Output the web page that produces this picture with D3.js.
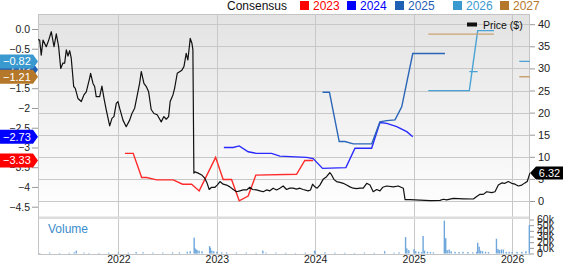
<!DOCTYPE html>
<meta charset="utf-8">
<html>
<style>
body { margin: 0; background: #fff; }
svg { display: block; font-family: "Liberation Sans", Arial, sans-serif; }
.tick text { fill: #222; }
</style>
<body>
<script src="https://cdn.jsdelivr.net/npm/d3@7"></script>
<script>

var width = 565, height = 264;

// price ($) : [decimal year, price]
var price = [
  [2021.182,36.5],[2021.199,36.4],[2021.215,33.0],[2021.233,36.4],[2021.266,34.9],[2021.291,36.4],
  [2021.317,38.3],[2021.345,34.9],[2021.368,37.8],[2021.392,34.9],[2021.413,30.0],[2021.436,31.2],
  [2021.453,31.2],[2021.470,34.2],[2021.487,32.8],[2021.504,34.0],[2021.520,32.3],[2021.545,25.9],
  [2021.561,25.5],[2021.588,23.2],[2021.622,22.5],[2021.649,24.0],[2021.673,24.7],[2021.707,27.8],
  [2021.717,28.9],[2021.741,26.6],[2021.758,25.9],[2021.774,23.6],[2021.809,23.6],[2021.832,26.0],
  [2021.853,23.2],[2021.876,20.6],[2021.911,17.0],[2021.934,18.7],[2021.954,19.1],[2021.978,22.1],
  [2021.995,22.5],[2022.012,21.0],[2022.046,18.3],[2022.079,16.8],[2022.114,18.3],[2022.137,19.8],
  [2022.165,21.0],[2022.198,24.7],[2022.215,26.6],[2022.232,29.3],[2022.259,26.6],[2022.283,25.9],
  [2022.307,24.7],[2022.333,20.7],[2022.361,19.8],[2022.394,19.5],[2022.435,17.9],[2022.462,19.1],
  [2022.486,18.5],[2022.510,19.1],[2022.526,22.5],[2022.554,24.0],[2022.571,25.5],[2022.598,28.9],
  [2022.645,29.6],[2022.666,30.4],[2022.689,33.4],[2022.706,31.9],[2022.730,36.8],[2022.747,35.7],
  [2022.757,34.2],[2022.767,6.3],[2022.777,6.6],[2022.811,6.3],[2022.846,5.9],[2022.879,5.1],
  [2022.902,4.0],[2022.923,2.6],[2022.947,3.1],[2022.981,3.1],[2023.004,3.6],[2023.032,4.4],
  [2023.065,3.8],[2023.100,3.6],[2023.133,3.2],[2023.167,2.6],[2023.201,2.1],[2023.235,2.3],
  [2023.268,2.5],[2023.303,2.5],[2023.336,3.1],[2023.364,2.6],[2023.404,2.5],[2023.438,2.3],
  [2023.472,2.1],[2023.506,2.5],[2023.540,2.3],[2023.573,2.9],[2023.608,2.5],[2023.641,2.9],
  [2023.675,3.4],[2023.709,2.6],[2023.743,2.9],[2023.776,2.9],[2023.811,2.7],[2023.845,2.9],
  [2023.878,2.6],[2023.929,2.3],[2023.953,2.5],[2023.974,3.8],[2023.997,3.2],[2024.020,2.9],
  [2024.048,3.6],[2024.081,4.9],[2024.116,5.5],[2024.149,6.4],[2024.167,5.9],[2024.190,4.9],
  [2024.217,4.4],[2024.251,4.2],[2024.285,4.0],[2024.319,3.6],[2024.353,3.2],[2024.386,2.9],
  [2024.421,2.8],[2024.454,2.9],[2024.488,2.9],[2024.523,4.0],[2024.556,3.6],[2024.589,2.1],
  [2024.624,2.6],[2024.657,2.3],[2024.685,3.1],[2024.726,3.4],[2024.793,3.2],[2024.843,3.4],
  [2024.894,2.9],[2024.912,0.3],[2024.962,0.3],[2025.064,0.2],[2025.166,0.1],[2025.267,0.15],
  [2025.301,0.4],[2025.335,0.25],[2025.402,0.6],[2025.504,0.5],[2025.606,0.45],[2025.640,1.0],
  [2025.674,1.5],[2025.707,1.5],[2025.742,2.1],[2025.793,1.9],[2025.826,2.1],[2025.860,3.6],
  [2025.894,4.1],[2025.928,4.0],[2025.961,4.4],[2025.996,4.0],[2026.030,3.8],[2026.063,3.4],
  [2026.098,3.6],[2026.131,4.1],[2026.154,4.4],[2026.175,5.9],[2026.182,6.32]
];

// consensus EPS by fiscal year : [decimal year, eps], null = gap
var eps2023 = [[2022.066,-3.15],[2022.150,-3.15],[2022.236,-3.76],[2022.287,-3.76],[2022.388,-3.82],
  [2022.557,-3.82],[2022.652,-3.93],[2022.744,-3.93],[2022.821,-4.10],[2022.988,-3.25],[2023.065,-3.81],
  [2023.150,-3.81],[2023.228,-4.35],[2023.319,-4.23],[2023.397,-3.70],[2023.811,-3.68],[2023.895,-3.33],
  [2023.980,-3.33]];
var eps2024 = [[2023.072,-3.00],[2023.167,-3.00],[2023.228,-2.96],[2023.319,-3.11],[2023.404,-3.15],
  [2023.557,-3.15],[2023.641,-3.22],[2023.913,-3.25],[2023.980,-3.28],[2024.075,-3.53],[2024.312,-3.51],
  [2024.404,-3.02],[2024.573,-3.02],[2024.657,-2.37],[2024.726,-2.39],[2024.827,-2.47],[2024.929,-2.60],
  [2024.990,-2.73]];
var eps2025 = [[2024.075,-1.60],[2024.145,-1.60],[2024.244,-2.85],[2024.302,-2.85],[2024.386,-2.91],
  [2024.573,-2.91],[2024.657,-2.35],[2024.726,-2.32],[2024.810,-2.30],[2024.878,-1.97],[2024.990,-0.62],
  [2025.318,-0.62]];
var eps2026 = [[2025.148,-1.56],[2025.565,-1.56],[2025.592,-1.08],[2025.565,-1.08],[2025.650,-1.08],
  [2025.592,-1.08],[2025.650,-0.04],[2025.816,-0.04],null,[2026.073,-0.82],[2026.182,-0.82]];
var eps2027 = [[2025.148,-0.13],[2025.816,-0.13],null,[2026.073,-1.21],[2026.182,-1.21]];

var seriesNames = ["2023","2024","2025","2026","2027"];
var seriesColors = ["#ff0000","#0000ff","#1f5fb4","#3a9ad0","#b5782a"];
var lineColors = ["#ff2a2a","#2a2aff","#2a66b8","#4aa3d4","#c9a273"];
var latestEps = [-3.33,-2.73,-1.03,-0.82,-1.21];
var lastPrice = 6.32;

// volume (thousands) : [decimal year, volume]
var volume = [
  [2021.20,1],[2021.30,1.5],[2021.40,1],[2021.50,1.2],[2021.55,2],[2021.571,5],[2021.65,1.5],[2021.70,1],
  [2021.80,1],[2021.90,1.5],[2022.00,2],[2022.10,1.5],[2022.18,2.5],[2022.25,2],[2022.35,1.5],[2022.45,1.5],
  [2022.55,2],[2022.62,2],[2022.70,3],[2022.73,4],[2022.770,28],[2022.78,9],[2022.79,7],[2022.80,6],
  [2022.82,5],[2022.85,4],[2022.927,13],[2022.935,10],[2022.95,5],[2022.97,4],[2023.00,3],[2023.05,2],
  [2023.10,2],[2023.20,1.5],[2023.30,1.5],[2023.40,1.2],[2023.468,5],[2023.50,1.5],[2023.60,1.5],
  [2023.70,1.2],[2023.80,1],[2023.90,1.5],[2023.994,5],[2024.00,3],[2024.10,2],[2024.20,1.5],[2024.30,1.2],
  [2024.40,1],[2024.50,1.5],[2024.60,1.2],[2024.705,4],[2024.80,1.5],[2024.85,2],[2024.917,29],[2024.93,9],
  [2024.95,6],[2025.003,8],[2025.02,4],[2025.05,3],[2025.08,2.5],[2025.095,31],[2025.11,5],[2025.14,3],
  [2025.17,2.5],[2025.20,2],[2025.311,58],[2025.325,27],[2025.34,6],[2025.36,7],[2025.38,4],[2025.42,3],
  [2025.46,2.5],[2025.50,3],[2025.55,2.5],[2025.60,2],[2025.64,3],[2025.650,19],[2025.665,12],[2025.68,5],
  [2025.70,4],[2025.73,3],[2025.76,2.5],[2025.841,26],[2025.856,8],[2025.87,6],[2025.89,7],[2025.91,7],
  [2025.94,3],[2025.97,3],[2026.00,3],[2026.05,3],[2026.10,3],[2026.14,4],[2026.175,50]
];

var epsTicks = [0,-0.5,-1,-1.5,-2,-2.5,-3,-3.5,-4,-4.5];
var priceTicks = [0,5,10,15,20,25,30,35,40];
var volTicks = [0,10,20,30,40,50,60];

// decimal year -> Date
function dy(t) {
  var y = Math.floor(t), a = new Date(y,0,1), b = new Date(y+1,0,1);
  return new Date(+a + (t - y) * (b - a));
}

var plotLeft = 38, plotRight = 530, plotTop = 14, mainBottom = 217, volTop = 219, volBottom = 254;

var x = d3.scaleTime().domain([dy(2021.182), dy(2026.182)]).range([plotLeft, plotRight]);
var yPrice = d3.scaleLinear().domain([0, 40]).range([201, 24.2]);
var yEps = d3.scaleLinear().domain([0, -4.5]).range([29, 206.7]);
var yVol = d3.scaleLinear().domain([0, 60]).range([253.5, 219.5]);

var svg = d3.select("body").append("svg")
    .attr("width", width).attr("height", height);

var defs = svg.append("defs");
var grad = defs.append("linearGradient").attr("id","bg").attr("x1",0).attr("x2",0).attr("y1",0).attr("y2",1);
grad.append("stop").attr("offset","0%").attr("stop-color","#e3e3e3");
grad.append("stop").attr("offset","100%").attr("stop-color","#ffffff");
defs.append("clipPath").attr("id","clipMain").append("rect")
    .attr("x",plotLeft).attr("y",plotTop).attr("width",plotRight-plotLeft).attr("height",mainBottom-plotTop);

// backgrounds
svg.append("rect").attr("x",plotLeft).attr("y",plotTop).attr("width",plotRight-plotLeft).attr("height",mainBottom-plotTop)
    .attr("fill","url(#bg)");
svg.append("rect").attr("x",plotLeft).attr("y",volTop).attr("width",plotRight-plotLeft).attr("height",volBottom-volTop)
    .attr("fill","#fff");

// grid
var grid = svg.append("g").attr("stroke","#c8c8c8").attr("stroke-width",1).attr("shape-rendering","crispEdges");
grid.selectAll(".h").data(priceTicks).enter().append("line")
    .attr("x1",plotLeft).attr("x2",plotRight)
    .attr("y1",d => Math.round(yPrice(d))+0.5).attr("y2",d => Math.round(yPrice(d))+0.5);
var yearTicks = x.ticks(d3.timeYear.every(1));
grid.selectAll(".v").data(yearTicks).enter().append("line")
    .attr("x1",d => Math.round(x(d))+0.5).attr("x2",d => Math.round(x(d))+0.5)
    .attr("y1",plotTop).attr("y2",volBottom);

// separator between panels
svg.append("rect").attr("x",plotLeft).attr("y",mainBottom-0.5).attr("width",plotRight-plotLeft).attr("height",2.5)
    .attr("fill","#dcdcdc");

// frame
svg.append("rect").attr("x",plotLeft+0.5).attr("y",plotTop+0.5).attr("width",plotRight-plotLeft-1).attr("height",volBottom-plotTop)
    .attr("fill","none").attr("stroke","#c4c4c4").attr("shape-rendering","crispEdges");

// volume bars
svg.append("g").selectAll("rect").data(volume).enter().append("rect")
    .attr("x", d => x(dy(d[0])) - 0.7)
    .attr("width", 1.4)
    .attr("y", d => yVol(d[1]))
    .attr("height", d => yVol(0) - yVol(d[1]))
    .attr("fill", "#6fa7dc");

svg.append("text").attr("x",48).attr("y",233).attr("font-size",12).attr("fill","#3a8ccc").text("Volume");

// EPS lines
var epsLine = d3.line().defined(d => d != null)
    .x(d => x(dy(d[0]))).y(d => yEps(d[1]));
var main = svg.append("g").attr("clip-path","url(#clipMain)");
[eps2023, eps2024, eps2025, eps2026, eps2027].forEach(function(s, i) {
  main.append("path").datum(s)
      .attr("fill","none").attr("stroke",lineColors[i]).attr("stroke-width",1.4)
      .attr("d", epsLine);
});

// price line
main.append("path").datum(price)
    .attr("fill","none").attr("stroke","#111").attr("stroke-width",1.2).attr("stroke-linejoin","round")
    .attr("d", d3.line().x(d => x(dy(d[0]))).y(d => yPrice(d[1])));

// left axis
var leftAxis = svg.append("g").attr("transform","translate(" + plotLeft + ",0)")
    .call(d3.axisLeft(yEps).tickValues(epsTicks).tickSize(6).tickPadding(2)
      .tickFormat(d => d === 0 ? "0.0" : d3.format("")(d)));
leftAxis.select(".domain").remove();
leftAxis.selectAll(".tick line").attr("stroke","#999");
leftAxis.selectAll("text").attr("font-size",10.5).attr("font-family","Liberation Sans, Arial, sans-serif");

// right price axis
var rightAxis = svg.append("g").attr("transform","translate(" + plotRight + ",0)")
    .call(d3.axisRight(yPrice).tickValues(priceTicks).tickSize(5).tickPadding(3));
rightAxis.select(".domain").remove();
rightAxis.selectAll(".tick line").attr("stroke","#999");
rightAxis.selectAll("text").attr("font-size",11).attr("font-family","Liberation Sans, Arial, sans-serif");

// right volume axis
var volAxis = svg.append("g").attr("transform","translate(" + plotRight + ",0)")
    .call(d3.axisRight(yVol).tickValues(volTicks).tickSize(4).tickPadding(3)
      .tickFormat(d => d === 0 ? "0" : d + "k"));
volAxis.select(".domain").remove();
volAxis.selectAll(".tick line").attr("stroke","#999");
volAxis.selectAll("text").attr("font-size",10.5).attr("font-family","Liberation Sans, Arial, sans-serif");

// bottom axis
var bottomAxis = svg.append("g").attr("transform","translate(0," + volBottom + ")")
    .call(d3.axisBottom(x).ticks(d3.timeYear.every(1)).tickSize(0).tickPadding(2)
      .tickFormat(d3.timeFormat("%Y")));
bottomAxis.select(".domain").remove();
bottomAxis.selectAll("text").attr("font-size",10.5).attr("font-family","Liberation Sans, Arial, sans-serif");

// left badges (2025 first so the others cover it)
var badgeOrder = [2, 0, 1, 3, 4];
badgeOrder.forEach(function(i) {
  var cy = yEps(latestEps[i]), h = 14;
  var g = svg.append("g");
  g.append("path")
      .attr("d", "M0," + (cy - h/2) + "H33L38," + cy + "L33," + (cy + h/2) + "H0Z")
      .attr("fill", seriesColors[i]);
  g.append("text").attr("x",3).attr("y",cy + 4).attr("font-size",11).attr("fill","#fff")
      .text(d3.format(".2f")(latestEps[i]));
});

// price badge
var py = yPrice(lastPrice);
svg.append("path")
    .attr("d", "M530," + py + "L536," + (py - 6.5) + "H563V" + (py + 6.5) + "H536Z")
    .attr("fill", "#000");
svg.append("text").attr("x",549.5).attr("y",py + 4).attr("text-anchor","middle")
    .attr("font-size",11).attr("fill","#fff").text(lastPrice.toFixed(2));

// top legend
var legend = svg.append("g").attr("font-size",12);
legend.append("text").attr("x",227).attr("y",10).attr("fill","#111").text("Consensus");
var legX = [300, 347, 395, 453, 500];
seriesNames.forEach(function(n, i) {
  legend.append("rect").attr("x",legX[i]).attr("y",1).attr("width",9).attr("height",9).attr("fill",seriesColors[i]);
  legend.append("text").attr("x",legX[i] + 13).attr("y",10).attr("fill",seriesColors[i]).text(n);
});

// price legend
svg.append("rect").attr("x",467).attr("y",22.5).attr("width",10).attr("height",4).attr("fill","#111");
svg.append("text").attr("x",483).attr("y",28.5).attr("font-size",10.5).attr("fill","#111").text("Price ($)");

</script>
</body>
</html>
